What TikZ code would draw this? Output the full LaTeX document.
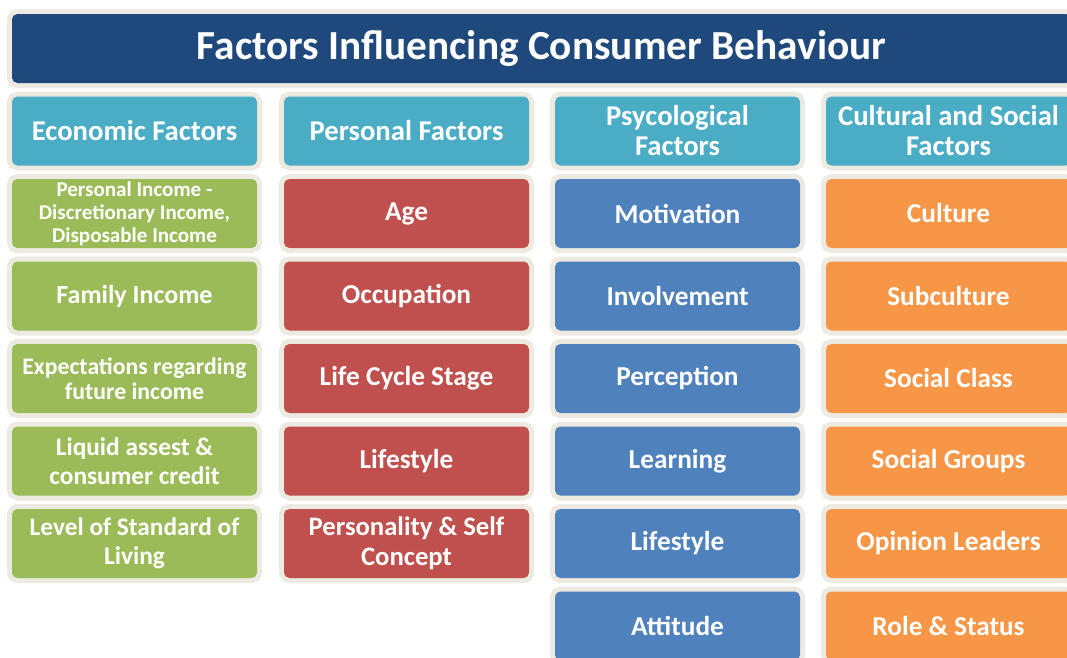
\documentclass[tikz,border=0pt]{standalone}
\usepackage{fontspec}
\setmainfont{Carlito}
\usepackage{xcolor}

\definecolor{titleblue}{HTML}{1F497D}
\definecolor{headteal}{HTML}{4BACC6}
\definecolor{econgreen}{HTML}{9BBB59}
\definecolor{persred}{HTML}{C0504D}
\definecolor{psyblue}{HTML}{4F81BD}
\definecolor{cultorange}{HTML}{F79646}
\definecolor{framegray}{HTML}{EDEAE1}

\tikzset{
  tile/.style={preaction={draw=framegray,line width=7.5pt}, rounded corners=4pt,
    minimum width=183.75pt, minimum height=51.75pt, inner sep=0pt, align=center,
    text=white, font=\bfseries\fontsize{20.5}{22}\selectfont},
  headtile/.style={tile, fill=headteal, font=\bfseries\fontsize{21.5}{22.5}\selectfont},
  econtile/.style={tile, fill=econgreen},
  perstile/.style={tile, fill=persred},
  psytile/.style={tile, fill=psyblue},
  culttile/.style={tile, fill=cultorange},
}

\begin{document}
\begin{tikzpicture}[x=0.75pt,y=0.75pt,yscale=-1,xscale=1]
\useasboundingbox (0,0) rectangle (1067,657);
\clip (0,0) rectangle (1067,657);
\fill[white] (0,0) rectangle (1067,657);

% Title bar
\node[tile, fill=titleblue, minimum width=794.25pt, font=\bfseries\fontsize{31}{33}\selectfont] (title) at (541.5,48.5) {Factors Influencing Consumer Behaviour};

% Column headers
\node[headtile] (econ) at (134.5,131) {Economic Factors};
\node[headtile] (pers) at (406.5,131) {Personal Factors};
\node[headtile] (psy) at (677.5,131) {Psycological\\Factors};
\node[headtile] (cult) at (948.5,131) {Cultural and Social\\Factors};

% Economic factors
\node[econtile, font=\bfseries\fontsize{15.8}{17.25}\selectfont] (econ1) at (134.5,213.5) {Personal Income -\\Discretionary Income,\\Disposable Income};
\node[econtile, font=\bfseries\fontsize{19.5}{22}\selectfont] (econ2) at (134.5,296) {Family Income};
\node[econtile, font=\bfseries\fontsize{17.8}{18.75}\selectfont] (econ3) at (134.5,378.5) {Expectations regarding\\future income};
\node[econtile, font=\bfseries\fontsize{19}{21.75}\selectfont] (econ4) at (134.5,461) {Liquid assest \&\\consumer credit};
\node[econtile, font=\bfseries\fontsize{19}{21.75}\selectfont] (econ5) at (134.5,543.5) {Level of Standard of\\Living};

% Personal factors
\node[perstile] (pers1) at (406.5,213.5) {Age};
\node[perstile] (pers2) at (406.5,296) {Occupation};
\node[perstile] (pers3) at (406.5,378.5) {Life Cycle Stage};
\node[perstile] (pers4) at (406.5,461) {Lifestyle};
\node[perstile, font=\bfseries\fontsize{20}{22.5}\selectfont] (pers5) at (406.5,543.5) {Personality \& Self\\Concept};

% Psycological factors
\node[psytile] (psy1) at (677.5,213.5) {Motivation};
\node[psytile] (psy2) at (677.5,296) {Involvement};
\node[psytile] (psy3) at (677.5,378.5) {Perception};
\node[psytile] (psy4) at (677.5,461) {Learning};
\node[psytile] (psy5) at (677.5,543.5) {Lifestyle};
\node[psytile] (psy6) at (677.5,626) {Attitude};

% Cultural and social factors
\node[culttile] (cult1) at (948.5,213.5) {Culture};
\node[culttile] (cult2) at (948.5,296) {Subculture};
\node[culttile] (cult3) at (948.5,378.5) {Social Class};
\node[culttile] (cult4) at (948.5,461) {Social Groups};
\node[culttile] (cult5) at (948.5,543.5) {Opinion Leaders};
\node[culttile] (cult6) at (948.5,626) {Role \& Status};

\end{tikzpicture}
\end{document}
